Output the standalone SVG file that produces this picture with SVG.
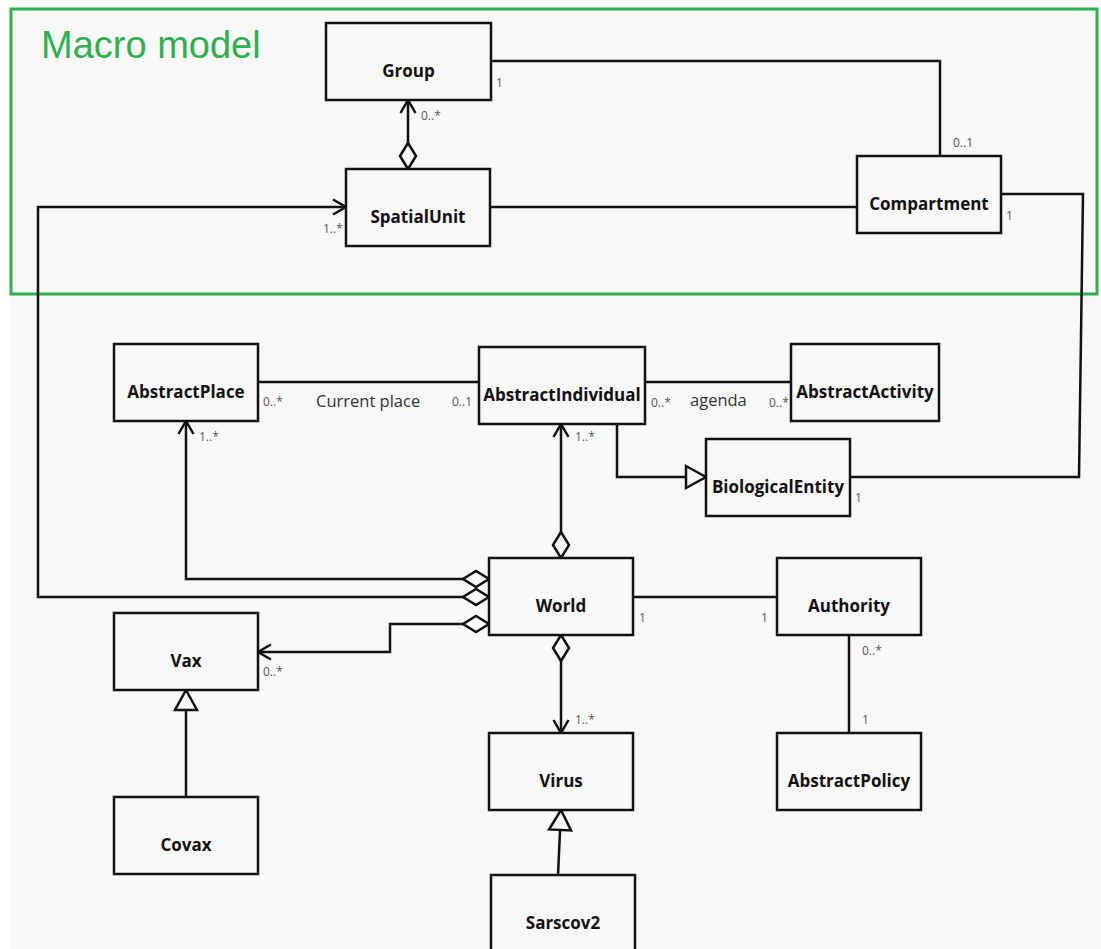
<svg xmlns="http://www.w3.org/2000/svg" width="1101" height="949" viewBox="0 0 1101 949">
<style>
.node rect{fill:#f8f8f8;stroke:#111;stroke-width:2.5}
.node text{font-family:"Open Sans","DejaVu Sans",sans-serif;font-weight:bold;font-size:17px;fill:#111;text-anchor:middle}
.conn path{fill:none;stroke:#111;stroke-width:2.5}
.m{font-family:"Open Sans","DejaVu Sans",sans-serif;font-size:12px;fill:#555}
.lbl{font-family:"Open Sans","DejaVu Sans",sans-serif;font-size:16.5px;fill:#333}
.agg{marker-start:url(#diamond)}
.nav{marker-end:url(#arrow)}
.gen{marker-end:url(#tri)}
</style>
<defs>
<marker id="arrow" markerUnits="userSpaceOnUse" viewBox="-20 -12 24 24" markerWidth="24" markerHeight="24" refX="0" refY="0" orient="auto">
<path d="M-13,-7.5 L0,0 L-13,7.5" fill="none" stroke="#111" stroke-width="2.5"/>
</marker>
<marker id="diamond" markerUnits="userSpaceOnUse" viewBox="-2 -12 32 24" markerWidth="32" markerHeight="24" refX="0" refY="0" orient="auto">
<path d="M0,0 L13,-8 L26,0 L13,8 Z" fill="#f8f8f8" stroke="#111" stroke-width="2.5"/>
</marker>
<marker id="tri" markerUnits="userSpaceOnUse" viewBox="-24 -14 28 28" markerWidth="28" markerHeight="28" refX="0" refY="0" orient="auto">
<path d="M0,0 L-20,-11 L-20,11 Z" fill="#f8f8f8" stroke="#111" stroke-width="2.5"/>
</marker>
</defs>
<rect x="0" y="0" width="1101" height="949" fill="#ffffff"/>
<rect x="10" y="8" width="1091" height="941" fill="#f8f8f8"/>
<g id="macro-frame">
<rect x="11" y="9" width="1086" height="285" fill="none" stroke="#2fb04f" stroke-width="3"/>
<text x="41" y="58" font-family="'Liberation Sans',Arial,sans-serif" font-size="38" fill="#2fb04f">Macro model</text>
</g>
<g id="connectors" class="conn">
<path d="M491,61 H940 V156"/>
<path d="M490,207 H857"/>
<path d="M1001,194 H1083 L1079,477 H850"/>
<path class="agg nav" d="M408,169 V100"/>
<path class="agg nav" d="M489,597 H38 V207 H346"/>
<path class="agg nav" d="M489,579 H186 V421"/>
<path class="agg nav" d="M489,624 H390 V652 H258"/>
<path class="agg nav" d="M561,558 V424"/>
<path class="agg nav" d="M561,635 V733"/>
<path d="M258,382 H479"/>
<path d="M645,382 H791"/>
<path class="gen" d="M617,424 V477 H706"/>
<path d="M633,597 H777"/>
<path d="M849,635 V733"/>
<path class="gen" d="M186,797 V690"/>
<path class="gen" d="M558,875 L561,810"/>
</g>
<g id="labels">
<text class="m" x="496" y="87">1</text>
<text class="m" x="953" y="147">0..1</text>
<text class="m" x="1006" y="220">1</text>
<text class="m" x="855" y="502">1</text>
<text class="m" x="421" y="120">0..*</text>
<text class="m" x="323" y="233">1..*</text>
<text class="m" x="263" y="406">0..*</text>
<text class="lbl" x="316" y="407">Current place</text>
<text class="m" x="452" y="406">0..1</text>
<text class="m" x="651" y="407">0..*</text>
<text class="lbl" x="690" y="406">agenda</text>
<text class="m" x="769" y="407">0..*</text>
<text class="m" x="199" y="441">1..*</text>
<text class="m" x="575" y="441">1..*</text>
<text class="m" x="639" y="622">1</text>
<text class="m" x="761" y="622">1</text>
<text class="m" x="862" y="655">0..*</text>
<text class="m" x="862" y="724">1</text>
<text class="m" x="575" y="724">1..*</text>
<text class="m" x="263" y="676">0..*</text>
</g>
<g id="Group" class="node"><rect x="326" y="23" width="165" height="77"/><text x="408.5" y="77">Group</text></g>
<g id="SpatialUnit" class="node"><rect x="346" y="169" width="144" height="77"/><text x="418" y="223">SpatialUnit</text></g>
<g id="Compartment" class="node"><rect x="857" y="156" width="144" height="77"/><text x="929" y="210">Compartment</text></g>
<g id="AbstractPlace" class="node"><rect x="114" y="344" width="144" height="77"/><text x="186" y="398">AbstractPlace</text></g>
<g id="AbstractIndividual" class="node"><rect x="479" y="347" width="166" height="77"/><text x="562" y="401">AbstractIndividual</text></g>
<g id="AbstractActivity" class="node"><rect x="791" y="344" width="148" height="77"/><text x="865" y="398">AbstractActivity</text></g>
<g id="BiologicalEntity" class="node"><rect x="706" y="439" width="144" height="77"/><text x="778" y="493">BiologicalEntity</text></g>
<g id="World" class="node"><rect x="489" y="558" width="144" height="77"/><text x="561" y="612">World</text></g>
<g id="Authority" class="node"><rect x="777" y="558" width="144" height="77"/><text x="849" y="612">Authority</text></g>
<g id="Vax" class="node"><rect x="114" y="613" width="144" height="77"/><text x="186" y="667">Vax</text></g>
<g id="Virus" class="node"><rect x="489" y="733" width="144" height="77"/><text x="561" y="787">Virus</text></g>
<g id="AbstractPolicy" class="node"><rect x="777" y="733" width="144" height="77"/><text x="849" y="787">AbstractPolicy</text></g>
<g id="Covax" class="node"><rect x="114" y="797" width="144" height="77"/><text x="186" y="851">Covax</text></g>
<g id="Sarscov2" class="node"><rect x="491" y="875" width="144" height="77"/><text x="563" y="929">Sarscov2</text></g>
</svg>
